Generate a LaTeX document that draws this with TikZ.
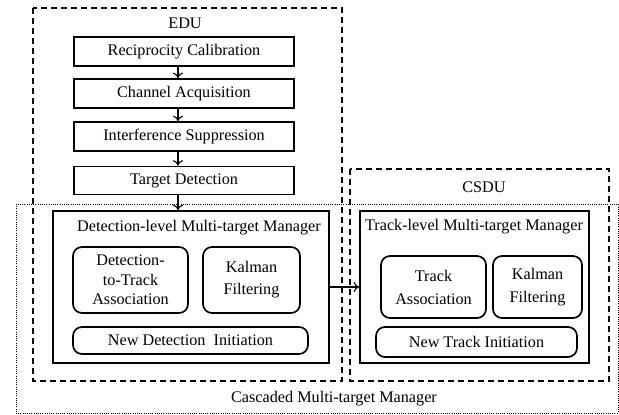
\documentclass[tikz,border=0pt]{standalone}
\usepackage{fontspec}
\setmainfont{Liberation Serif}
\usetikzlibrary{arrows.meta,calc}
\begin{document}
\begin{tikzpicture}[x=1pt,y=-1pt,
  font=\fontsize{16.2}{19}\selectfont,
  box/.style={draw, line width=1.7pt, inner sep=0pt, align=center},
  rbox/.style={box, rounded corners=9pt},
  unit/.style={draw, line width=1.7pt, dash pattern=on 6pt off 4pt},
  cascade/.style={draw, line width=1pt, dash pattern=on 1pt off 1.2pt},
  arr/.style={line width=1.1pt, -{To[length=5.5pt,width=10pt]}},
  lbl/.style={inner sep=0pt, anchor=center}]
\useasboundingbox (0,0) rectangle (619,415);
% outer containers
\draw[cascade] (16,204) rectangle (618,413);
\draw[unit] (33,8) rectangle (342,381);
\draw[unit] (350,169) rectangle (609,381);
\node[lbl] (edu) at (185,23) {EDU};
\node[lbl] (csdu) at (484,187) {CSDU};
\node[lbl] (cmm) at (334,399) {Cascaded Multi-target Manager};
% EDU chain
\node[box, minimum width=220pt, minimum height=29pt] (rc) at (184,51.5) {Reciprocity Calibration};
\node[box, minimum width=220pt, minimum height=29pt] (ca) at (184,93.5) {Channel Acquisition};
\node[box, minimum width=220pt, minimum height=29pt] (is) at (184,136.5) {Interference Suppression};
\node[box, minimum width=220pt, minimum height=28pt] (td) at (184,180.5) {Target Detection};
% detection-level manager
\node[box, minimum width=276pt, minimum height=152pt] (dl) at (191,287) {};
\node[lbl] (dlt) at (199,228) {Detection-level Multi-target Manager};
\node[rbox, minimum width=115pt, minimum height=66pt, font=\fontsize{16.2}{19.5}\selectfont] (dta) at (130.5,280) {Detection-\\to-Track\\Association};
\node[rbox, minimum width=97pt, minimum height=66pt, font=\fontsize{16.2}{22}\selectfont] (kf1) at (251.5,280) {Kalman\\Filtering};
\node[rbox, minimum width=235pt, minimum height=27pt] (ndi) at (190.5,340.5) {New Detection\ \ Initiation};
% track-level manager
\node[box, minimum width=229pt, minimum height=152pt] (tl) at (474.5,287) {};
\node[lbl] (tlt) at (474,227) {Track-level Multi-target Manager};
\node[rbox, minimum width=105pt, minimum height=62pt, font=\fontsize{16.2}{23}\selectfont] (ta) at (433.5,287) {Track\\Association};
\node[rbox, minimum width=89pt, minimum height=62pt, font=\fontsize{16.2}{23}\selectfont] (kf2) at (537.5,287) {Kalman\\Filtering};
\node[rbox, minimum width=201pt, minimum height=30pt] (nti) at (476.5,342) {New Track Initiation};
% connectors
\coordinate (tdo) at ($(td.south)+(-6,0)$);
\draw[arr] ($(rc.south)+(-6,0)$) -- ($(ca.north)+(-6,0)$);
\draw[arr] ($(ca.south)+(-6,0)$) -- ($(is.north)+(-6,0)$);
\draw[arr] ($(is.south)+(-6,0)$) -- ($(td.north)+(-6,0)$);
\draw[arr] (tdo) -- (tdo |- dl.north);
\draw[arr] (dl.east) -- (tl.west);
\end{tikzpicture}
\end{document}
